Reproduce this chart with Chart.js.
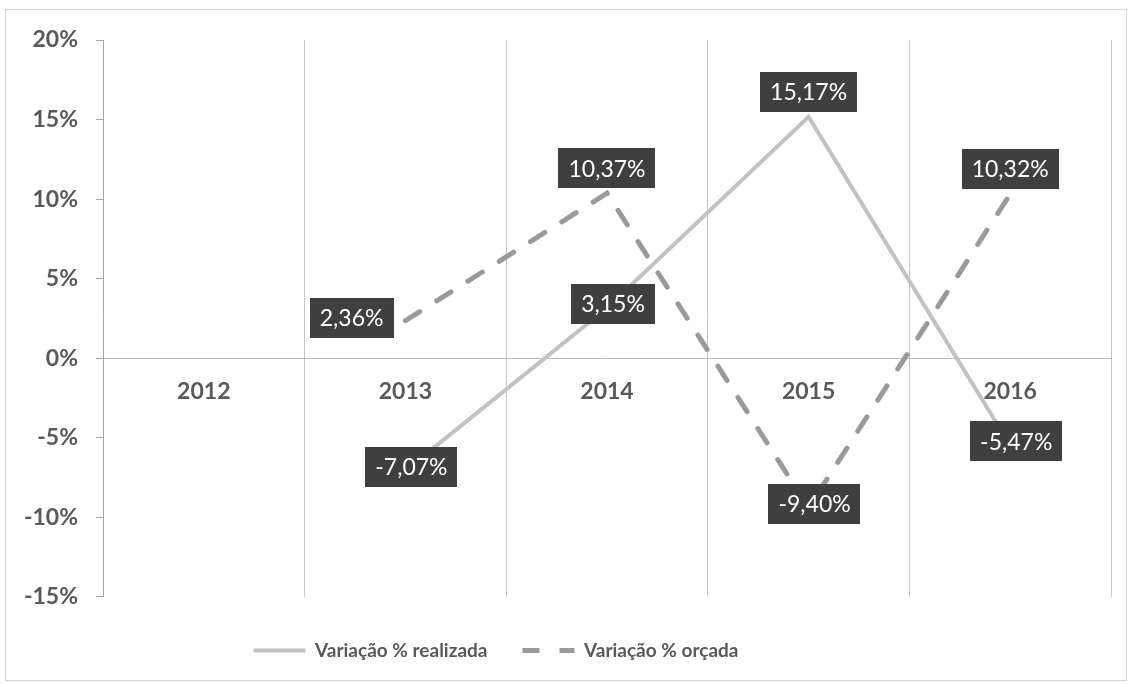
<!DOCTYPE html>
<html>
<head>
<meta charset="utf-8">
<script src="https://cdn.jsdelivr.net/npm/chart.js@4"></script>
<style>
  html, body { margin: 0; padding: 0; background: #fff; }
  #wrap { position: relative; width: 1131px; height: 684px; }
  #frame { position: absolute; left: 5px; top: 9px; width: 1122px; height: 672px; border: 1px solid #d4d4d4; box-sizing: border-box; pointer-events: none; }
</style>
</head>
<body>
<div id="wrap">
  <canvas id="chart" width="1131" height="684"></canvas>
  <div id="frame"></div>
</div>
<script>
// Dados do gráfico
const anos = ["2012", "2013", "2014", "2015", "2016"];
const variacaoRealizada = [null, -7.07, 3.15, 15.17, -5.47];
const variacaoOrcada = [null, 2.36, 10.37, -9.40, 10.32];
const yTicks = [-15, -10, -5, 0, 5, 10, 15, 20];

const corTexto = "#595959";
const fonte = "Lato, 'Open Sans', sans-serif";

// Formata valor no padrão brasileiro: 2,36%
function formatPct(v) {
    return v.toFixed(2).replace(".", ",") + "%";
}

// Plugin para desenhar os rótulos escuros sobre os pontos
const rotulosPlugin = {
    id: "rotulos",
    afterLayout(chart) {
        // legenda um pouco deslocada para a esquerda, como no original
        chart.legend.left -= 71;
        chart.legend.right -= 71;
    },
    afterDatasetsDraw(chart, args, opts) {
        const ctx = chart.ctx;
        ctx.save();
        ctx.font = "23px " + fonte;
        ctx.textAlign = "center";
        ctx.textBaseline = "middle";
        chart.data.datasets.forEach((ds, di) => {
            const meta = chart.getDatasetMeta(di);
            const lugares = opts.posicoes[di];
            ds.data.forEach((v, i) => {
                if (v === null) return;
                const pt = meta.data[i];
                const texto = formatPct(v);
                const w = ctx.measureText(texto).width + 20;
                const h = 40;
                let cx = pt.x, cy = pt.y;
                if (lugares[i] === "above") {
                    cy = pt.y - 5 - h / 2;
                } else if (lugares[i] === "left") {
                    cx = pt.x - 12 - w / 2;
                    cy = pt.y - 3;
                } else {
                    cx = pt.x + 6;
                    cy = pt.y - 4;
                }
                ctx.fillStyle = "#3f3f3f";
                ctx.fillRect(Math.round(cx - w / 2), Math.round(cy - h / 2), Math.round(w), h);
                ctx.fillStyle = "#ffffff";
                ctx.fillText(texto, cx, cy + 1);
            });
        });
        ctx.restore();
    }
};

const ctx = document.getElementById("chart").getContext("2d");
new Chart(ctx, {
    type: "line",
    data: {
        labels: anos,
        datasets: [{
            label: "Variação % realizada",
            data: variacaoRealizada,
            borderColor: "#c2c2c2",
            backgroundColor: "#c2c2c2",
            borderWidth: 4,
            pointRadius: 0,
            tension: 0
        },
        {
            label: "Variação % orçada",
            data: variacaoOrcada,
            borderColor: "#9a9a9a",
            backgroundColor: "#9a9a9a",
            borderWidth: 5,
            borderDash: [17, 20],
            borderCapStyle: "round",
            pointRadius: 0,
            tension: 0
        }
        ]
    },
    options: {
        responsive: false,
        animation: false,
        layout: {
            padding: { left: 23, right: 20, top: 40, bottom: 14 }
        },
        scales: {
            x: {
                type: "category",
                position: { y: 0 },
                offset: true,
                grid: {
                    offset: true,
                    drawTicks: false,
                    color: "#c6c6c6",
                    lineWidth: 1
                },
                border: { display: true, color: "#bdbdbd", width: 1 },
                ticks: {
                    padding: 20,
                    color: corTexto,
                    font: { family: fonte, size: 23, weight: "bold" }
                }
            },
            y: {
                min: -15,
                max: 20,
                afterFit(scale) { scale.width = 80; },
                afterBuildTicks(scale) {
                    scale.ticks = yTicks.map(v => ({ value: v }));
                },
                grid: {
                    drawOnChartArea: false,
                    drawTicks: true,
                    tickLength: 7,
                    color: "#a6a6a6"
                },
                border: { display: true, color: "#a6a6a6", width: 1 },
                ticks: {
                    padding: 18,
                    color: corTexto,
                    font: { family: fonte, size: 23, weight: "bold" },
                    callback: v => v + "%"
                }
            }
        },
        plugins: {
            legend: {
                position: "bottom",
                // título vazio só para abrir espaço acima da legenda
                title: { display: true, text: "", font: { size: 1 }, padding: { top: 8, bottom: 0 } },
                labels: {
                    usePointStyle: true,
                    pointStyle: "line",
                    pointStyleWidth: 52,
                    padding: 35,
                    color: corTexto,
                    font: { family: fonte, size: 19, weight: "bold" },
                    // com pointStyle o tracejado se perde, então copiamos do dataset
                    generateLabels(chart) {
                        const itens = Chart.defaults.plugins.legend.labels.generateLabels(chart);
                        itens.forEach(item => {
                            const ds = chart.data.datasets[item.datasetIndex];
                            item.lineDash = ds.borderDash || [];
                            item.lineWidth = ds.borderWidth;
                            item.strokeStyle = ds.borderColor;
                        });
                        return itens;
                    }
                }
            },
            tooltip: { enabled: false },
            rotulos: {
                posicoes: [
                    ["center", "center", "center", "above", "center"],
                    ["center", "left", "above", "center", "above"]
                ]
            }
        }
    },
    plugins: [rotulosPlugin]
});
</script>
</body>
</html>
